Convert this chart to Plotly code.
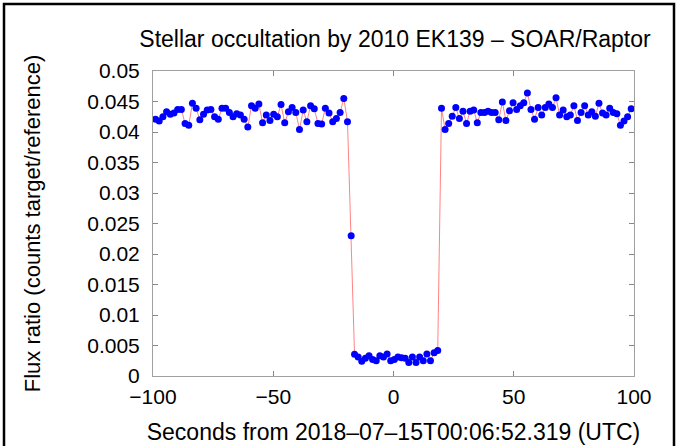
import plotly.graph_objects as go

# Time (s from 2018-07-15T00:06:52.319 UTC)
seconds = [
    -98.95, -97.42, -95.88, -94.35, -92.81, -91.28, -89.74, -88.21, -86.67, -85.14,
    -83.60, -82.07, -80.53, -79.00, -77.46, -75.93, -74.39, -72.86, -71.32, -69.79,
    -68.25, -66.72, -65.18, -63.65, -62.11, -60.58, -59.04, -57.51, -55.97, -54.44,
    -52.90, -51.37, -49.83, -48.30, -46.76, -45.23, -43.69, -42.16, -40.62, -39.09,
    -37.55, -36.02, -34.48, -32.95, -31.41, -29.88, -28.34, -26.81, -25.27, -23.74,
    -22.20, -20.67, -19.13, -17.60,
    -16.20, -14.70, -13.19, -11.69, -10.18, -8.68, -7.18, -5.67, -4.17, -2.66,
    -1.16, 0.34, 1.85, 3.35, 4.86, 6.36, 7.86, 9.37, 10.87, 12.38,
    13.88, 15.38, 16.89, 18.39,
    19.96, 21.45, 22.94, 24.42, 25.91, 27.40, 28.89, 30.38, 31.86, 33.35,
    34.84, 36.33, 37.82, 39.30, 40.79, 42.28, 43.77, 45.26, 46.74, 48.23,
    49.72, 51.21, 52.70, 54.18, 55.67, 57.16, 58.65, 60.14, 61.62, 63.11,
    64.60, 66.09, 67.58, 69.06, 70.55, 72.04, 73.53, 75.02, 76.50, 77.99,
    79.48, 80.97, 82.46, 83.94, 85.43, 86.92, 88.41, 89.90, 91.38, 92.87,
    94.36, 95.85, 97.34, 98.83,
]

# Flux ratio (counts target/reference)
flux = [
    0.0421, 0.0418, 0.0425, 0.0433, 0.0429, 0.0431, 0.0437, 0.0437, 0.0414, 0.0411,
    0.0447, 0.0439, 0.0420, 0.0429, 0.0436, 0.0437, 0.0425, 0.0421, 0.0439, 0.0439,
    0.0432, 0.0425, 0.0430, 0.0428, 0.0421, 0.0408, 0.0443, 0.0439,
    0.0446, 0.0415, 0.0428, 0.0419, 0.0429, 0.0425, 0.0445, 0.0415, 0.0433, 0.0440,
    0.0432, 0.0404, 0.0436, 0.0417, 0.0443, 0.0438, 0.0414, 0.0413, 0.0439, 0.0431,
    0.0417, 0.0422, 0.0432, 0.0455, 0.0417,
    0.0230,
    0.00355, 0.0031, 0.0024, 0.0029, 0.0033, 0.0027, 0.0025, 0.0033, 0.0031, 0.0036,
    0.0025, 0.0027, 0.0031, 0.0030, 0.0029, 0.0022, 0.0031, 0.0022, 0.0031, 0.0025,
    0.0036, 0.0025, 0.0038, 0.0042,
    0.0439, 0.0404, 0.0414, 0.0426, 0.0440, 0.0422, 0.0434, 0.0414, 0.0434, 0.0436,
    0.0415, 0.0432, 0.0432, 0.0434, 0.0432, 0.0432, 0.0420, 0.0449, 0.0419, 0.0435,
    0.0448, 0.0437, 0.0443, 0.0448, 0.0464, 0.0437, 0.0421, 0.0440, 0.0428, 0.0440,
    0.0446, 0.0440, 0.0456, 0.0428, 0.0436, 0.0425, 0.0428, 0.0443, 0.0419, 0.0432,
    0.0443, 0.0428, 0.0433, 0.0426, 0.0447, 0.0431, 0.0428, 0.0439, 0.0432, 0.0430,
    0.0411, 0.0418, 0.0425, 0.0438,
]

x_ticks = [-100, -50, 0, 50, 100]
y_ticks = [0, 0.005, 0.01, 0.015, 0.02, 0.025, 0.03, 0.035, 0.04, 0.045, 0.05]
y_tick_text = ["0", "0.005", "0.01", "0.015", "0.02", "0.025", "0.03", "0.035",
               "0.04", "0.045", "0.05"]

FONT = "Liberation Sans, Arial, Helvetica, sans-serif"

fig = go.Figure()
fig.add_trace(go.Scatter(
    x=seconds, y=flux, mode="lines+markers",
    line=dict(color="rgba(255,90,90,0.75)", width=1),
    marker=dict(color="#0000ff", size=7, line=dict(width=0)),
    cliponaxis=True, showlegend=False,
))

axis_common = dict(
    showgrid=False, zeroline=False, showline=True, linecolor="#a0a0a0",
    linewidth=1, mirror="ticks", ticks="inside", tickcolor="#888888",
    ticklen=5, tickwidth=1, tickfont=dict(family=FONT, size=21, color="#000"),
    automargin=False,
)

fig.update_layout(
    width=680, height=446,
    margin=dict(l=153, r=46, t=71, b=70),
    paper_bgcolor="white", plot_bgcolor="white",
    title=dict(text="Stellar occultation by 2010 EK139 \u2013 SOAR/Raptor",
               x=(395 / 680), xanchor="center", y=1 - 39 / 446, yanchor="middle",
               font=dict(family=FONT, size=23, color="#000")),
    xaxis=dict(range=[-100, 100], tickvals=x_ticks, ticklabelstandoff=2,
               title=dict(text="Seconds from 2018\u201307\u201315T00:06:52.319 (UTC)",
                          font=dict(family=FONT, size=23, color="#000"), standoff=16),
               **axis_common),
    yaxis=dict(range=[0, 0.05], tickvals=y_ticks, ticktext=y_tick_text,
               ticklabelstandoff=8,
               title=dict(text="Flux ratio (counts target/reference)",
                          font=dict(family=FONT, size=22, color="#000"), standoff=40),
               **axis_common),
    shapes=[dict(type="rect", xref="paper", yref="paper",
                 x0=(4 - 153) / 481, x1=(674 - 153) / 481,
                 y0=(376 - 460) / 305, y1=(376 - 4) / 305,
                 line=dict(color="black", width=2.5), fillcolor="rgba(0,0,0,0)",
                 layer="above")],
)

fig.write_html("out.html")
